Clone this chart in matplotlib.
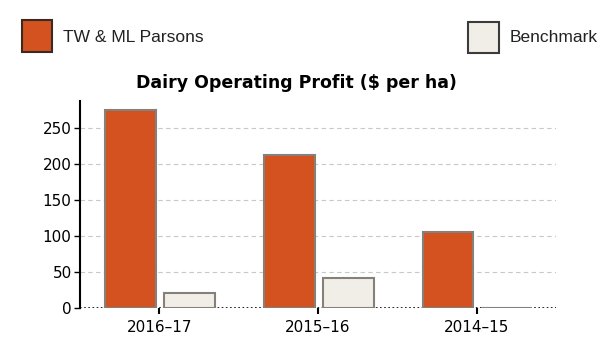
import matplotlib.pyplot as plt
from matplotlib.patches import Rectangle

years = ["2016-17", "2015-16", "2014-15"]
parsons = [274, 212, 105]
benchmark = [21, 42, 0]

orange = "#D35220"
cream = "#F1EDE7"
edge = "#858079"

fig = plt.figure(figsize=(6.03, 3.47), dpi=100)
ax = fig.add_axes([80 / 603, 1 - 308 / 347, 476 / 603, 207 / 347])

x = range(len(years))
ax.bar([i - 0.18 for i in x], parsons, width=0.32, color=orange,
       edgecolor=edge, linewidth=1.5, zorder=3)
ax.bar([i + 0.19 for i in x], benchmark, width=0.32, color=cream,
       edgecolor=edge, linewidth=1.5, zorder=3)

ax.set_xlim(-0.5, 2.5)
ax.set_ylim(0, 287)
ax.set_yticks([0, 50, 100, 150, 200, 250])
ax.set_xticks(list(x))
ax.set_xticklabels([y.replace("-", "\u2013") for y in years])
ax.yaxis.grid(True, color="#c8c8c8", linestyle=(0, (4, 3)), linewidth=0.8, zorder=0)
ax.axhline(0, color="black", linestyle=(0, (1, 1.5)), linewidth=1.2, zorder=2)

for s in ["top", "right", "bottom"]:
    ax.spines[s].set_visible(False)
ax.spines["left"].set_linewidth(1.5)
ax.tick_params(axis="y", length=4, width=1, labelsize=11, pad=2)
ax.tick_params(axis="x", length=4, width=1.5, labelsize=11, pad=5)

fig.text(296 / 603, 1 - 83 / 347, "Dairy Operating Profit ($ per ha)",
         ha="center", va="center", fontsize=12.5, fontweight="bold")

# legend
fig.patches.append(Rectangle((22 / 603, 1 - 52 / 347), 30 / 603, 32 / 347,
                             transform=fig.transFigure, facecolor=orange,
                             edgecolor="#3b2a22", linewidth=1.5))
fig.text(63 / 603, 1 - 37 / 347, "TW & ML Parsons", ha="left", va="center",
         fontsize=12.5, family="Liberation Sans", color="#222222")
fig.patches.append(Rectangle((468 / 603, 1 - 53 / 347), 31 / 603, 31 / 347,
                             transform=fig.transFigure, facecolor=cream,
                             edgecolor="#3b3b3b", linewidth=1.5))
fig.text(510 / 603, 1 - 37 / 347, "Benchmark", ha="left", va="center",
         fontsize=12.5, family="Liberation Sans", color="#222222")

fig.savefig("out.png", dpi=100)
